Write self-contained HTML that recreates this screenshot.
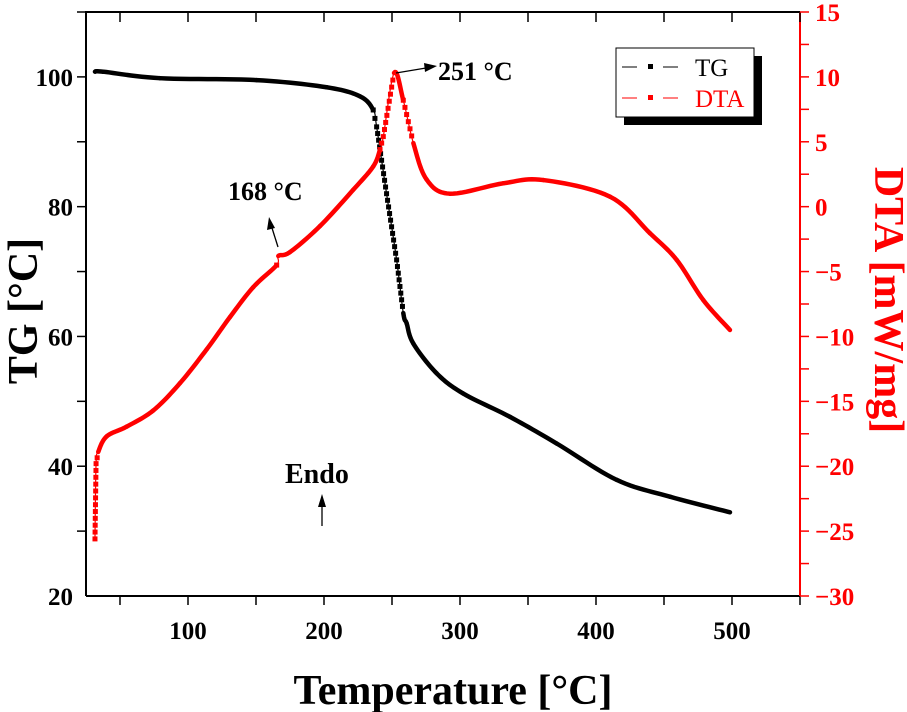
<!DOCTYPE html>
<html><head><meta charset="utf-8"><style>
body{margin:0;background:#fff}
svg{display:block;font-family:"Liberation Serif",serif}
</style></head><body>
<svg id="chart" width="907" height="712" viewBox="0 0 907 712" xmlns="http://www.w3.org/2000/svg">
<g id="axes"></g>
<g id="series"></g>
<text x="453" y="704" text-anchor="middle" font-size="42" font-weight="bold">Temperature [°C]</text>
<text transform="translate(37,311) rotate(-90)" text-anchor="middle" font-size="42" font-weight="bold">TG [°C]</text>
<text transform="translate(875,300) rotate(90)" text-anchor="middle" font-size="42" font-weight="bold" fill="#f00">DTA [mW/mg]</text>
<g>
<line x1="396" y1="73" x2="426" y2="68" stroke="#000" stroke-width="1.3"/>
<polygon points="437,66 424,63 425,72" fill="#000"/>
<text x="438" y="80" font-size="26" font-weight="bold">251 °C</text>
</g>
<g>
<line x1="278" y1="247" x2="272" y2="228" stroke="#000" stroke-width="1.3"/>
<polygon points="269,217 267,230 275,228" fill="#000"/>
<text x="228" y="200" font-size="26" font-weight="bold">168 °C</text>
</g>
<g>
<text x="285" y="483" font-size="28" font-weight="bold">Endo</text>
<line x1="322" y1="526" x2="322" y2="505" stroke="#000" stroke-width="1.3"/>
<polygon points="322,494 318,507 326,507" fill="#000"/>
</g>
<g>
<rect x="624" y="56" width="138" height="69" fill="#000"/>
<rect x="616" y="48" width="138" height="69" fill="#fff" stroke="#000" stroke-width="1"/>
<g>
<line x1="622" y1="67" x2="637" y2="67" stroke="#000" stroke-width="1"/>
<rect x="648" y="64" width="5" height="5" fill="#000"/>
<line x1="663" y1="67" x2="678" y2="67" stroke="#000" stroke-width="1"/>
<text x="695" y="76" font-size="25">TG</text>
</g>
<g>
<line x1="622" y1="98" x2="637" y2="98" stroke="#f00" stroke-width="1"/>
<rect x="648" y="95" width="5" height="5" fill="#f00"/>
<line x1="663" y1="98" x2="678" y2="98" stroke="#f00" stroke-width="1"/>
<text x="695" y="107" font-size="25" fill="#f00">DTA</text>
</g>
</g>
</svg>
<script>
const tgT = [31.6,37.7,79.4,150.5,201.9,226.5,236.2,238.7,246,253.4,258.3,260.8,265.7,282.9,302.4,336.8,371.1,415.2,454.4,498.5];
const tgV = [100.8,100.8,99.8,99.5,98.4,97,94.9,92.3,82,71.8,63.6,62.0,58.9,54.3,51.2,47.6,43.5,37.9,35.3,32.9];
const dtaT = [31.6,32.4,34,40.2,54.9,74.5,94.1,113.7,130.9,148,165.2,166.4,175,197,221.5,236.2,241.2,243.6,251.5,258.3,265.7,275.4,292.6,331.8,361.3,410.3,439.7,459.3,478.9,498.5];
const dtaV = [-25.6,-19.8,-18.9,-17.7,-16.95,-15.7,-13.6,-11.0,-8.5,-6.2,-4.5,-3.8,-3.5,-1.5,1.3,3.1,4.4,5.4,10.3,8.2,4.9,2.1,1.0,1.8,2.05,0.77,-2.05,-4.1,-7.2,-9.5];
const xTicks = [100,200,300,400,500];
const yLeftTicks = [20,40,60,80,100];
const yRightTicks = [-30,-25,-20,-15,-10,-5,0,5,10,15];

const L=86,R=800,T=12,B=596;
const X0=25,X1=550,YL0=20,YL1=110,YR0=-30,YR1=15;
const sx=v=>L+(v-X0)/(X1-X0)*(R-L);
const syL=v=>B-(v-YL0)/(YL1-YL0)*(B-T);
const syR=v=>B-(v-YR0)/(YR1-YR0)*(B-T);
const NS="http://www.w3.org/2000/svg";
const axes=document.getElementById('axes'), ser=document.getElementById('series');
function mk(tag,attrs,parent){const e=document.createElementNS(NS,tag);for(const k in attrs)e.setAttribute(k,attrs[k]);parent.appendChild(e);return e;}

const frame=mk('path',{d:`M${L},${B}L${L},${T}L${R},${T}`,stroke:'#000','stroke-width':2,fill:'none'},axes);


const xAxis=mk('line',{x1:L,y1:B,x2:R,y2:B,stroke:'#000','stroke-width':2},axes);


const rAxis=mk('line',{x1:R,y1:T,x2:R,y2:B,stroke:'#f00','stroke-width':2},axes);



for(let v=50;v<=550;v+=50){
  const x=sx(v);
  mk('line',{x1:x,y1:B,x2:x,y2:B+9,stroke:'#000','stroke-width':1.5},axes);
  mk('line',{x1:x,y1:T,x2:x,y2:T+10,stroke:'#000','stroke-width':1.5},axes);
}
xTicks.forEach(v=>{
  const t=mk('text',{x:sx(v),y:B+43,'text-anchor':'middle','font-size':25,'font-weight':'bold'},axes);
  t.textContent=v;
  
  
});
for(let v=30;v<=110;v+=10){
  const y=syL(v);
  mk('line',{x1:L-9,y1:y,x2:L,y2:y,stroke:'#000','stroke-width':1.5},axes);
}
yLeftTicks.forEach(v=>{
  const t=mk('text',{x:L-13,y:syL(v)+9,'text-anchor':'end','font-size':25,'font-weight':'bold'},axes);
  t.textContent=v;
  
  
});
for(let v=-30;v<=15;v+=2.5){
  const y=syR(v);
  mk('line',{x1:R,y1:y,x2:R+9,y2:y,stroke:'#f00','stroke-width':1.5},axes);
}
yRightTicks.forEach(v=>{
  const t=mk('text',{x:R+15,y:syR(v)+9,'font-size':25,'font-weight':'bold',fill:'#f00'},axes);
  t.textContent=v<0?'\u2212'+(-v):v;
  
  
});

function drawSeries(xs,ys,sy,color,name){
  const g=mk('g',{},ser);
  
  
  const pts=xs.map((v,i)=>[sx(v),sy(ys[i])]);
  const n=pts.length;
  for(let i=0;i<n-1;i++){
    const p0=pts[Math.max(0,i-1)],p1=pts[i],p2=pts[i+1],p3=pts[Math.min(n-1,i+2)];
    const steep=Math.abs(p2[1]-p1[1])/Math.max(Math.abs(p2[0]-p1[0]),0.01)>3.2;
    // catmull-rom sampled segment
    const seg=[];
    const S=12;
    for(let k=0;k<=S;k++){
      const t=k/S,t2=t*t,t3=t2*t;
      const f=(a,b,c,d)=>0.5*((2*b)+(-a+c)*t+(2*a-5*b+4*c-d)*t2+(-a+3*b-3*c+d)*t3);
      seg.push([f(p0[0],p1[0],p2[0],p3[0]),f(p0[1],p1[1],p2[1],p3[1])]);
    }
    if(steep){
      mk('polyline',{points:seg.map(p=>p.join(',')).join(' '),fill:'none',stroke:color,'stroke-width':1.2},g);
      const len=Math.hypot(p2[0]-p1[0],p2[1]-p1[1]);
      const m=Math.max(1,Math.round(len/7));
      for(let k=0;k<m;k++){
        const f=k/m;
        const r=mk('rect',{x:p1[0]+(p2[0]-p1[0])*f-2.5,y:p1[1]+(p2[1]-p1[1])*f-2.5,width:5,height:5,fill:color},g);
        
      }
    } else {
      mk('polyline',{points:seg.map(p=>p.join(',')).join(' '),fill:'none',stroke:color,'stroke-width':4.5,'stroke-linecap':'round','stroke-linejoin':'round'},g);
    }
  }
}
drawSeries(tgT,tgV,syL,'#000','tg-series');
drawSeries(dtaT,dtaV,syR,'#f00','dta-series');
</script>
</body></html>
